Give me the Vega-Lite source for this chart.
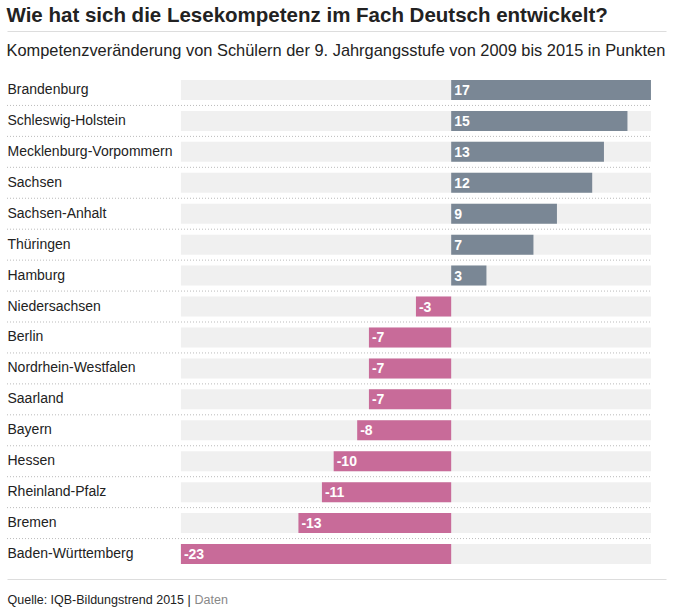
{
  "$schema": "https://vega.github.io/schema/vega-lite/v6.json",
  "autosize": "none",
  "width": 659,
  "height": 495,
  "padding": {"left": 7, "right": 10, "top": 74.5, "bottom": 42.5},
  "background": "white",
  "config": {"view": {"stroke": null}},
  "title": {
    "text": "Wie hat sich die Lesekompetenz im Fach Deutsch entwickelt?",
    "subtitle": "Kompetenzveränderung von Schülern der 9. Jahrgangsstufe von 2009 bis 2015 in Punkten",
    "anchor": "start",
    "frame": "bounds",
    "font": "Liberation Sans",
    "fontSize": 20.5,
    "fontWeight": "bold",
    "color": "#222222",
    "subtitleFont": "Liberation Sans",
    "subtitleFontSize": 16.4,
    "subtitleColor": "#222222",
    "subtitlePadding": 16,
    "offset": -28
  },
  "data": {
    "values": [
      {"state": "Brandenburg", "value": 17},
      {"state": "Schleswig-Holstein", "value": 15},
      {"state": "Mecklenburg-Vorpommern", "value": 13},
      {"state": "Sachsen", "value": 12},
      {"state": "Sachsen-Anhalt", "value": 9},
      {"state": "Thüringen", "value": 7},
      {"state": "Hamburg", "value": 3},
      {"state": "Niedersachsen", "value": -3},
      {"state": "Berlin", "value": -7},
      {"state": "Nordrhein-Westfalen", "value": -7},
      {"state": "Saarland", "value": -7},
      {"state": "Bayern", "value": -8},
      {"state": "Hessen", "value": -10},
      {"state": "Rheinland-Pfalz", "value": -11},
      {"state": "Bremen", "value": -13},
      {"state": "Baden-Württemberg", "value": -23}
    ]
  },
  "encoding": {
    "y": {
      "field": "state",
      "type": "nominal",
      "sort": null,
      "scale": {"paddingInner": 0, "paddingOuter": 0},
      "axis": {
        "orient": "left",
        "domain": false,
        "ticks": false,
        "tickSize": 0,
        "grid": false,
        "labelAlign": "left",
        "labelPadding": 0,
        "labelFont": "Liberation Sans",
        "labelFontSize": 14,
        "labelColor": "#222222",
        "labelLimit": 0,
        "title": "Daten",
        "titleAngle": 0,
        "titleX": 187,
        "titleY": 528.5,
        "titleAlign": "left",
        "titleBaseline": "alphabetic",
        "titleFont": "Liberation Sans",
        "titleFontSize": 12.5,
        "titleFontWeight": "normal",
        "titleColor": "#888888"
      }
    }
  },
  "resolve": {"axis": {"x": "independent"}},
  "layer": [
    {
      "mark": {"type": "bar", "color": "#f0f0f0", "size": 20},
      "encoding": {
        "x": {
          "datum": -23,
          "type": "quantitative",
          "scale": {"domain": [-37.8, 18.28], "nice": false, "zero": false},
          "axis": {
            "orient": "bottom",
            "offset": 9.5,
            "domain": true,
            "domainColor": "#dddddd",
            "domainWidth": 1,
            "ticks": false,
            "labels": false,
            "grid": false,
            "title": "Quelle: IQB-Bildungstrend 2015 |",
            "titleX": 0,
            "titleY": 24,
            "titleAlign": "left",
            "titleAnchor": "start",
            "titleBaseline": "alphabetic",
            "titleFont": "Liberation Sans",
            "titleFontSize": 12.5,
            "titleFontWeight": "normal",
            "titleColor": "#222222"
          }
        },
        "x2": {"datum": 17}
      }
    },
    {
      "mark": {"type": "bar", "size": 20},
      "encoding": {
        "x": {
          "field": "value",
          "type": "quantitative",
          "axis": {
            "orient": "top",
            "offset": 43.5,
            "domain": true,
            "domainColor": "#dddddd",
            "domainWidth": 1,
            "ticks": false,
            "labels": false,
            "grid": false,
            "title": null
          }
        },
        "x2": {"datum": 0},
        "color": {
          "condition": {"test": "datum.value > 0", "value": "#7a8795"},
          "value": "#c86b99"
        }
      }
    },
    {
      "transform": [{"filter": "datum.state != 'Baden-Württemberg'"}],
      "mark": {"type": "rule", "color": "#bbbbbb", "strokeDash": [1, 2], "strokeWidth": 1},
      "encoding": {
        "y": {"field": "state", "type": "nominal", "sort": null, "bandPosition": 1},
        "x": {"datum": -37.8, "type": "quantitative", "axis": null},
        "x2": {"datum": 17}
      }
    },
    {
      "transform": [{"filter": "datum.value > 0"}],
      "mark": {"type": "text", "align": "left", "baseline": "middle", "dx": 3, "dy": 1, "color": "white", "font": "Liberation Sans", "fontWeight": "bold", "fontSize": 14},
      "encoding": {
        "x": {"datum": 0, "type": "quantitative", "axis": null},
        "text": {"field": "value", "type": "nominal"}
      }
    },
    {
      "transform": [{"filter": "datum.value < 0"}],
      "mark": {"type": "text", "align": "left", "baseline": "middle", "dx": 3, "dy": 1, "color": "white", "font": "Liberation Sans", "fontWeight": "bold", "fontSize": 14},
      "encoding": {
        "x": {"field": "value", "type": "quantitative", "axis": null},
        "text": {"field": "value", "type": "nominal"}
      }
    }
  ]
}
